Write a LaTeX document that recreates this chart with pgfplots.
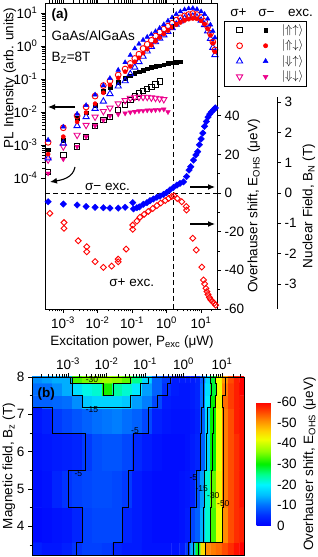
\documentclass[border=0pt]{standalone}
\usepackage{fontspec}
\setmainfont{Liberation Sans}
\usepackage{pgfplots}
\pgfplotsset{compat=1.18}
\usetikzlibrary{arrows.meta}
\pgfplotsset{
 every axis/.append style={scale only axis, tick align=outside, major tick length=4pt, minor tick length=2.5pt,
   tick style={black, line width=0.6pt}, axis line style={line width=0.7pt}, enlargelimits=false,
   font=\fontsize{13.5}{16}\selectfont},
 topminorx/.style={minor xtick={-3.398,-3.301,-3.222,-3.155,-3.097,-3.046,-2.699,-2.523,-2.398,-2.301,-2.222,-2.155,-2.097,-2.046,-1.699,-1.523,-1.398,-1.301,-1.222,-1.155,-1.097,-1.046,-0.699,-0.523,-0.398,-0.301,-0.222,-0.155,-0.097,-0.046,0.301,0.477,0.602,0.699,0.778,0.845,0.903,0.954,1.301}},
 botminorx/.style={minor xtick={-3.699,-3.523,-3.398,-3.301,-3.222,-3.155,-3.097,-3.046,-2.699,-2.523,-2.398,-2.301,-2.222,-2.155,-2.097,-2.046,-1.699,-1.523,-1.398,-1.301,-1.222,-1.155,-1.097,-1.046,-0.699,-0.523,-0.398,-0.301,-0.222,-0.155,-0.097,-0.046,0.301,0.477,0.602,0.699,0.778,0.845,0.903,0.954,1.301,1.477}},
 logxlabels/.style={xtick={-3,-2,-1,0,1}, xticklabels={10\textsuperscript{-3},10\textsuperscript{-2},10\textsuperscript{-1},10\textsuperscript{0},10\textsuperscript{1}}},
}
\begin{document}
\begin{tikzpicture}[font=\fontsize{13.5}{16}\selectfont]
\useasboundingbox (0pt,0pt) rectangle (317pt,557pt);

% ---------------- panel (a): PL intensity (log10 values) ----------------
\begin{axis}[at={(45pt,248pt)}, anchor=south west, width=172pt, height=306pt,
  xmin=-3.52, xmax=1.46, ymin=-7.97, ymax=1.30,
  logxlabels, topminorx, xtick pos=both, xticklabel pos=left,
  ytick={-4,-3,-2,-1,0,1},
  yticklabels={10\textsuperscript{-4},10\textsuperscript{-3},10\textsuperscript{-2},10\textsuperscript{-1},10\textsuperscript{0},10\textsuperscript{1}},
  minor ytick={-3.699,-3.523,-3.398,-3.301,-3.222,-3.155,-3.097,-3.046,-2.699,-2.523,-2.398,-2.301,-2.222,-2.155,-2.097,-2.046,-1.699,-1.523,-1.398,-1.301,-1.222,-1.155,-1.097,-1.046,-0.699,-0.523,-0.398,-0.301,-0.222,-0.155,-0.097,-0.046,0.301,0.477,0.602,0.699,0.778,0.845,0.903,0.954},
  ytick pos=left,
  legend style={at={(1.0407,0.9422)}, anchor=north west, draw=black, line width=0.6pt,
     inner xsep=1pt, inner ysep=1.5pt, row sep=0pt, font=\fontsize{12}{14}\selectfont,
     nodes={inner ysep=1.75pt, inner xsep=2pt, text height=9pt, text depth=3pt}},
  legend cell align=left]
\addplot[forget plot, only marks, mark=square, mark size=2.7pt, black, line width=0.9pt] coordinates {
(-3.43,-3.81)(-2.99,-3.30)(-2.59,-3.05)(-2.33,-2.75)(-2.07,-2.42)(-1.83,-2.25)(-1.64,-2.15)(-1.40,-1.94)(-1.20,-1.78)(-1.05,-1.64)(-0.92,-1.53)(-0.80,-1.44)(-0.68,-1.37)(-0.56,-1.30)(-0.44,-1.24)(-0.32,-1.17)(-0.20,-1.08)};
\addplot[forget plot, only marks, mark=square*, mark size=1.8pt, black] coordinates {
(-3.43,-3.15)(-2.99,-2.85)(-2.59,-2.19)(-2.33,-2.02)(-2.07,-1.80)(-1.83,-1.38)(-1.64,-1.25)(-1.40,-1.10)(-1.20,-0.98)(-1.05,-0.90)(-0.92,-0.83)(-0.80,-0.78)(-0.68,-0.73)(-0.56,-0.69)(-0.44,-0.65)(-0.32,-0.62)(-0.20,-0.60)(-0.08,-0.57)(0.04,-0.53)(0.16,-0.51)(0.28,-0.50)(0.40,-0.48)};
\addplot[forget plot, only marks, mark=triangle, mark size=3.6pt, mark options={rotate=180}, magenta, line width=0.9pt] coordinates {
(-3.43,-3.45)(-2.99,-3.05)(-2.59,-2.70)(-2.33,-2.40)(-2.07,-2.15)(-1.83,-1.98)(-1.64,-1.88)(-1.40,-1.75)(-1.20,-1.65)(-1.05,-1.58)(-0.92,-1.55)(-0.80,-1.55)(-0.68,-1.55)(-0.56,-1.55)(-0.44,-1.57)(-0.32,-1.58)(-0.20,-1.60)(-0.08,-1.62)};
\addplot[forget plot, only marks, mark=triangle*, mark size=2.7pt, mark options={rotate=180}, magenta] coordinates {
(-3.43,-3.86)(-2.99,-3.43)(-2.59,-3.05)(-2.33,-2.75)(-2.07,-2.42)(-1.83,-2.25)(-1.64,-2.12)(-1.40,-2.07)(-1.20,-2.04)(-1.05,-2.01)(-0.92,-1.99)(-0.80,-1.97)(-0.68,-1.96)(-0.56,-1.95)(-0.44,-1.95)(-0.32,-1.94)(-0.20,-1.93)(-0.08,-1.92)(0.04,-2.00)};
\addplot[forget plot, only marks, mark=triangle, mark size=3.6pt, blue, line width=0.9pt] coordinates {
(-3.43,-3.40)(-2.99,-2.95)(-2.59,-2.42)(-2.33,-2.15)(-2.07,-1.90)(-1.83,-1.68)(-1.64,-1.45)(-1.40,-1.22)(-1.20,-1.06)(-1.05,-0.85)(-0.92,-0.65)(-0.80,-0.48)(-0.68,-0.32)(-0.56,-0.16)(-0.44,-0.02)(-0.32,0.12)(-0.20,0.23)(-0.08,0.33)(0.04,0.43)(0.16,0.55)(0.28,0.65)(0.40,0.75)(0.52,0.83)(0.64,0.87)(0.76,0.89)(0.88,0.86)(1.00,0.77)(1.10,0.64)(1.19,0.45)(1.27,0.22)(1.34,-0.05)(1.40,-0.27)};
\addplot[forget plot, only marks, mark=o, mark size=2.9pt, red, line width=0.9pt] coordinates {
(-3.43,-2.92)(-2.99,-2.48)(-2.59,-2.12)(-2.33,-1.85)(-2.07,-1.52)(-1.83,-1.20)(-1.64,-1.06)(-1.40,-0.88)(-1.20,-0.70)(-1.05,-0.53)(-0.92,-0.38)(-0.80,-0.25)(-0.68,-0.08)(-0.56,0.05)(-0.44,0.17)(-0.32,0.30)(-0.20,0.42)(-0.08,0.51)(0.04,0.60)(0.16,0.69)(0.28,0.78)(0.40,0.85)(0.52,0.91)(0.64,0.95)(0.76,0.98)(0.88,0.95)(1.00,0.86)(1.10,0.74)(1.19,0.58)(1.27,0.38)(1.34,0.12)(1.40,-0.12)};
\addplot[forget plot, only marks, mark=*, mark size=2.1pt, red] coordinates {
(-3.43,-3.28)(-2.99,-2.75)(-2.59,-2.30)(-2.33,-2.02)(-2.07,-1.75)(-1.83,-1.42)(-1.64,-1.18)(-1.40,-0.97)(-1.20,-0.78)(-1.05,-0.62)(-0.92,-0.48)(-0.80,-0.36)(-0.68,-0.22)(-0.56,-0.10)(-0.44,0.02)(-0.32,0.14)(-0.20,0.25)(-0.08,0.36)(0.04,0.46)(0.16,0.56)(0.28,0.64)(0.40,0.71)(0.52,0.77)(0.64,0.81)(0.76,0.83)(0.88,0.82)(1.00,0.76)(1.10,0.66)(1.19,0.52)(1.27,0.32)(1.34,0.08)(1.40,-0.18)};
\addplot[forget plot, only marks, mark=triangle*, mark size=2.7pt, blue] coordinates {
(-3.43,-2.85)(-2.99,-2.45)(-2.59,-2.06)(-2.33,-1.80)(-2.07,-1.48)(-1.83,-1.20)(-1.64,-0.98)(-1.40,-0.73)(-1.20,-0.50)(-1.05,-0.28)(-0.92,-0.08)(-0.80,0.06)(-0.68,0.18)(-0.56,0.27)(-0.44,0.35)(-0.32,0.44)(-0.20,0.54)(-0.08,0.65)(0.04,0.76)(0.16,0.86)(0.28,0.96)(0.40,1.04)(0.52,1.10)(0.64,1.13)(0.76,1.14)(0.88,1.11)(1.00,1.04)(1.10,0.96)(1.19,0.82)(1.27,0.64)(1.34,0.45)(1.40,0.25)};
\addlegendimage{legend image code/.code={\path (0pt,-4pt) (54pt,4pt);
  \draw[black,line width=0.9pt] plot[only marks,mark=square,mark size=2.7pt] coordinates {(14pt,0pt)};
  \draw[black,fill=black] plot[only marks,mark=square*,mark size=1.8pt] coordinates {(40pt,0pt)};}}
\addlegendentry{$|{\Uparrow}{\uparrow}\rangle$}
\addlegendimage{legend image code/.code={\path (0pt,-4pt) (54pt,4pt);
  \draw[red,line width=0.9pt] plot[only marks,mark=o,mark size=2.9pt] coordinates {(14pt,0pt)};
  \draw[red,fill=red] plot[only marks,mark=*,mark size=2.1pt] coordinates {(40pt,0pt)};}}
\addlegendentry{$|{\Uparrow}{\downarrow}\rangle$}
\addlegendimage{legend image code/.code={\path (0pt,-4pt) (54pt,4pt);
  \draw[blue,line width=0.9pt] plot[only marks,mark=triangle,mark size=3.6pt] coordinates {(14pt,0pt)};
  \draw[blue,fill=blue] plot[only marks,mark=triangle*,mark size=2.7pt] coordinates {(40pt,0pt)};}}
\addlegendentry{$|{\Downarrow}{\uparrow}\rangle$}
\addlegendimage{legend image code/.code={\path (0pt,-4pt) (54pt,4pt);
  \draw[magenta,line width=0.9pt] plot[only marks,mark=triangle,mark size=3.6pt,mark options={rotate=180}] coordinates {(14pt,0pt)};
  \draw[magenta,fill=magenta] plot[only marks,mark=triangle*,mark size=2.7pt,mark options={rotate=180}] coordinates {(40pt,0pt)};}}
\addlegendentry{$|{\Downarrow}{\downarrow}\rangle$}
\end{axis}

% ---------------- panel (a): Overhauser shift ----------------
\begin{axis}[at={(45pt,248pt)}, anchor=south west, width=172pt, height=306pt,
  xmin=-3.52, xmax=1.46, ymin=-60, ymax=98.3,
  axis x line=none, axis y line*=right,
  ytick={-60,-40,-20,0,20,40}, yticklabels={-60,-40,-20,0,20,40},
  minor ytick={-50,-30,-10,10,30,50}]
\addplot[black, line width=0.8pt, dash pattern=on 5pt off 3pt] coordinates {(-3.52,0)(1.46,0)};
\addplot[black, line width=0.8pt, dash pattern=on 5pt off 3pt] coordinates {(0.19,-60)(0.19,98.3)};
\addplot[only marks, mark=square, mark size=2.1pt, mark options={rotate=45}, red, line width=0.9pt] coordinates {
(-3.38,-10.5)(-2.97,-15.3)(-2.97,-18.3)(-2.56,-24.7)(-2.31,-27.8)(-2.31,-30.4)(-2.07,-35.5)(-1.83,-38.5)(-1.59,-37.8)(-1.40,-34.2)(-1.40,-35.6)(-1.17,-29)(-0.98,-16.6)(-0.98,-18.8)(-0.86,-14.5)(-0.77,-12.5)(-0.65,-11)(-0.53,-9.5)(-0.40,-8)(-0.28,-6.5)(-0.17,-5.2)(-0.04,-3.9)(0.06,-2.8)(0.15,-1.8)(0.22,-1.5)(0.31,-2.8)(0.44,-4.5)(0.57,-7.0)(0.58,-8.8)(0.76,-23.4)(0.86,-29.5)(1.02,-38.3)(1.07,-45)(1.10,-47)(1.14,-49.3)(1.17,-51)(1.20,-52.5)(1.24,-54)(1.28,-55.2)(1.33,-56.2)(1.38,-57)(1.42,-58)};
\addplot[only marks, mark=square*, mark size=2.3pt, mark options={rotate=45}, blue] coordinates {
(-3.43,-4.5)(-2.99,-5.7)(-2.59,-6.2)(-2.33,-7.0)(-2.07,-7.4)(-1.83,-7.6)(-1.64,-7.8)(-1.40,-7.8)(-1.20,-7.4)(-0.98,-5.0)(-0.96,-8.2)(-0.86,-7.6)(-0.79,-7.2)(-0.67,-5.8)(-0.57,-5.0)(-0.48,-4.0)(-0.38,-3.1)(-0.28,-2.2)(-0.19,-1.6)(-0.09,-0.7)(0.0,0.2)(0.10,1.6)(0.20,2.9)(0.30,4.1)(0.39,5.0)(0.49,5.8)(0.58,8.5)(0.65,11.9)(0.70,13.6)(0.78,17.0)(0.85,19.7)(0.90,21.4)(0.95,25.0)(1.00,28.0)(1.05,31.0)(1.10,34.5)(1.15,37.0)(1.20,39.3)(1.25,40.8)(1.30,42.0)(1.36,43.0)(1.41,44.0)};
\end{axis}

% ---------------- panel (a): nuclear field axis ----------------
\begin{axis}[at={(277pt,248pt)}, anchor=south east, width=8pt, height=212pt,
  xmin=0, xmax=1, ymin=-3.83, ymax=3.17,
  axis x line=none, axis y line*=right,
  ytick={-3,-2,-1,0,1,2,3}, yticklabels={-3,-2,-1,0,1,2,3}]
\addplot[draw=none] coordinates {(0,0)};
\end{axis}

% ---------------- panel (b): meta = magnitude of the Overhauser shift ----------------
\begin{axis}[at={(32pt,2pt)}, anchor=south west, width=212pt, height=178pt,
  xmin=-3.935, xmax=1.571, ymin=3.228, ymax=8,
  logxlabels, botminorx, xtick pos=right, xticklabel pos=right,
  ytick={4,5,6,7,8}, yticklabels={4,5,6,7,8}, minor ytick={3.5,4.5,5.5,6.5,7.5}, ytick pos=left,
  axis on top,
  colormap={ohs}{rgb255(0cm)=(0,0,255) rgb255(5cm)=(0,45,255) rgb255(10cm)=(0,110,255) rgb255(15cm)=(0,190,255) rgb255(20cm)=(0,245,255) rgb255(25cm)=(0,255,140) rgb255(30cm)=(0,240,0) rgb255(36cm)=(140,255,0) rgb255(42cm)=(240,255,0) rgb255(46cm)=(255,210,0) rgb255(51cm)=(255,140,0) rgb255(56cm)=(255,60,0) rgb255(60cm)=(255,0,0)},
  point meta min=0, point meta max=60,
  colorbar,
  colorbar style={at={(parent axis.south east)}, anchor=south west, xshift=4pt, yshift=29pt,
     scale only axis, width=17pt, height=124pt,
     ytick={0,10,20,30,40,50,60}, yticklabels={0,-10,-20,-30,-40,-50,-60},
     major tick length=0pt, axis line style={draw=none},
     ylabel={Overhauser shift, E\textsubscript{OHS} (μeV)}}]
\addplot[matrix plot*, mesh/cols=27, point meta=explicit] coordinates {
(-3.805,3.15)[3.5] (-3.545,3.15)[2.5] (-3.286,3.15)[2.5] (-3.026,3.15)[3.5] (-2.766,3.15)[5.5] (-2.506,3.15)[6.5] (-2.247,3.15)[6.5] (-1.987,3.15)[6] (-1.727,3.15)[4] (-1.468,3.15)[3] (-1.208,3.15)[3] (-0.948,3.15)[2] (-0.688,3.15)[2] (-0.429,3.15)[2] (-0.195,3.15)[2] (-0.013,3.15)[3] (0.117,3.15)[6] (0.247,3.15)[14] (0.377,3.15)[28] (0.506,3.15)[45] (0.636,3.15)[51] (0.766,3.15)[52] (0.922,3.15)[53] (1.078,3.15)[55] (1.234,3.15)[57] (1.390,3.15)[59] (1.519,3.15)[60]
(-3.805,4)[1] (-3.545,4)[1.5] (-3.286,4)[2] (-3.026,4)[2.5] (-2.766,4)[4] (-2.506,4)[6.5] (-2.247,4)[7] (-1.987,4)[7] (-1.727,4)[7] (-1.468,4)[4] (-1.208,4)[3] (-0.948,4)[2] (-0.688,4)[1.5] (-0.429,4)[1.5] (-0.195,4)[1.5] (-0.013,4)[2] (0.117,4)[3] (0.247,4)[7] (0.377,4)[9] (0.506,4)[14] (0.636,4)[22] (0.766,4)[33] (0.922,4)[42] (1.078,4)[51] (1.234,4)[55] (1.390,4)[57] (1.519,4)[58]
(-3.805,5)[1.5] (-3.545,5)[2] (-3.286,5)[4] (-3.026,5)[5.5] (-2.766,5)[6.5] (-2.506,5)[7] (-2.247,5)[7.5] (-1.987,5)[7.5] (-1.727,5)[7] (-1.468,5)[6] (-1.208,5)[3] (-0.948,5)[2] (-0.688,5)[1.5] (-0.429,5)[1.5] (-0.195,5)[1.5] (-0.013,5)[2] (0.117,5)[2.5] (0.247,5)[3.5] (0.377,5)[8] (0.506,5)[13] (0.636,5)[22] (0.766,5)[34] (0.922,5)[43] (1.078,5)[52] (1.234,5)[55] (1.390,5)[57] (1.519,5)[59]
(-3.805,6)[2] (-3.545,6)[2.5] (-3.286,6)[3] (-3.026,6)[3.5] (-2.766,6)[4] (-2.506,6)[6] (-2.247,6)[7.5] (-1.987,6)[8] (-1.727,6)[8] (-1.468,6)[7] (-1.208,6)[4.5] (-0.948,6)[3] (-0.688,6)[2] (-0.429,6)[1.5] (-0.195,6)[1.5] (-0.013,6)[1.5] (0.117,6)[2] (0.247,6)[3] (0.377,6)[4] (0.506,6)[9] (0.636,6)[17] (0.766,6)[30] (0.922,6)[42] (1.078,6)[52] (1.234,6)[55] (1.390,6)[57] (1.519,6)[59]
(-3.805,7)[2.5] (-3.545,7)[3.5] (-3.286,7)[6] (-3.026,7)[7] (-2.766,7)[8] (-2.506,7)[9] (-2.247,7)[10] (-1.987,7)[10.5] (-1.727,7)[11] (-1.468,7)[10] (-1.208,7)[9] (-0.948,7)[7] (-0.688,7)[3.5] (-0.429,7)[2.5] (-0.195,7)[2] (-0.013,7)[2] (0.117,7)[2] (0.247,7)[2.5] (0.377,7)[3.5] (0.506,7)[9] (0.636,7)[17] (0.766,7)[30] (0.922,7)[42] (1.078,7)[52] (1.234,7)[55] (1.390,7)[58] (1.519,7)[59]
(-3.805,7.35)[9] (-3.545,7.35)[9] (-3.286,7.35)[9.5] (-3.026,7.35)[10] (-2.766,7.35)[12] (-2.506,7.35)[16] (-2.247,7.35)[17] (-1.987,7.35)[17] (-1.727,7.35)[17] (-1.468,7.35)[16] (-1.208,7.35)[13] (-0.948,7.35)[11] (-0.688,7.35)[7] (-0.429,7.35)[3] (-0.195,7.35)[2.5] (-0.013,7.35)[2.5] (0.117,7.35)[2.5] (0.247,7.35)[3] (0.377,7.35)[4] (0.506,7.35)[10] (0.636,7.35)[19] (0.766,7.35)[30] (0.922,7.35)[43] (1.078,7.35)[53] (1.234,7.35)[56] (1.390,7.35)[58] (1.519,7.35)[59]
(-3.805,7.67)[10] (-3.545,7.67)[10] (-3.286,7.67)[12] (-3.026,7.67)[14] (-2.766,7.67)[18] (-2.506,7.67)[21] (-2.247,7.67)[22] (-1.987,7.67)[31] (-1.727,7.67)[24] (-1.468,7.67)[22] (-1.208,7.67)[19] (-0.948,7.67)[13] (-0.688,7.67)[9] (-0.429,7.67)[5] (-0.195,7.67)[3] (-0.013,7.67)[2.5] (0.117,7.67)[2.5] (0.247,7.67)[3] (0.377,7.67)[4] (0.506,7.67)[10] (0.636,7.67)[18] (0.766,7.67)[28] (0.922,7.67)[42] (1.078,7.67)[52] (1.234,7.67)[56] (1.390,7.67)[58] (1.519,7.67)[60]
(-3.805,8)[12] (-3.545,8)[13] (-3.286,8)[14] (-3.026,8)[14] (-2.766,8)[33] (-2.506,8)[35] (-2.247,8)[36] (-1.987,8)[37] (-1.727,8)[36] (-1.468,8)[34] (-1.208,8)[25] (-0.948,8)[17] (-0.688,8)[9] (-0.429,8)[6] (-0.195,8)[3] (-0.013,8)[3] (0.117,8)[3] (0.247,8)[3] (0.377,8)[4] (0.506,8)[9] (0.636,8)[17] (0.766,8)[28] (0.922,8)[42] (1.078,8)[50] (1.234,8)[55] (1.390,8)[58] (1.519,8)[60]
};
% contour lines
\addplot[black, line width=0.7pt] coordinates {(-3.935,7.175)(-3.416,7.175)(-3.416,6.5)(-2.558,6.5)(-2.558,5.5)(-3.0,5.5)(-3.0,4.5)(-2.636,4.5)(-2.636,3.575)(-2.792,3.575)(-2.792,3.228)};
\addplot[black, line width=0.7pt] coordinates {(-1.831,3.228)(-1.831,3.575)(-1.597,3.575)(-1.597,4.5)(-1.442,4.5)(-1.442,5.5)(-1.312,5.5)(-1.312,6.5)(-0.922,6.5)(-0.922,7.175)(-0.688,7.175)(-0.688,7.51)(-0.429,7.51)(-0.429,7.835)(-0.351,7.835)(-0.351,8)};
\addplot[black, line width=0.7pt] coordinates {(-2.896,8)(-2.896,7.51)(-2.636,7.51)(-2.636,7.175)(-1.390,7.175)(-1.390,7.51)(-1.130,7.51)(-1.130,7.835)(-0.922,7.835)(-0.922,8)};
\addplot[black, line width=0.7pt] coordinates {(-2.948,8)(-2.948,7.835)(-2.091,7.835)(-2.091,7.51)(-1.831,7.51)(-1.831,7.835)(-1.390,7.835)(-1.390,8)};
\addplot[black, line width=0.7pt] coordinates {(0.117,3.228)(0.117,3.575)(0.169,3.575)(0.169,4.5)(0.325,4.5)(0.325,5.5)(0.429,5.5)(0.429,6.5)(0.455,6.5)(0.455,7.175)(0.506,7.175)(0.506,8)};
\addplot[black, line width=0.7pt] coordinates {(0.247,3.228)(0.247,3.575)(0.506,3.575)(0.506,4.5)(0.532,4.5)(0.532,5.5)(0.584,5.5)(0.584,6.5)(0.610,6.5)(0.610,7.175)(0.688,7.175)(0.688,7.51)(0.714,7.51)(0.714,7.835)(0.688,7.835)(0.688,8)};
\addplot[black, line width=0.7pt] coordinates {(0.377,3.228)(0.377,3.575)(0.688,3.575)(0.688,4.5)(0.714,4.5)(0.714,5.5)(0.740,5.5)(0.740,6.5)(0.766,6.5)(0.766,7.175)(0.818,7.175)(0.818,7.51)(0.844,7.51)(0.844,7.835)(0.818,7.835)(0.818,8)};
\addplot[black, line width=0.7pt] coordinates {(0.558,3.228)(0.558,3.575)(1.0,3.575)(1.0,4.5)(1.026,4.5)(1.026,5.5)(1.026,6.5)(1.026,7.175)(1.0,7.175)(1.0,7.51)(1.078,7.51)(1.078,8)};
\node[font=\fontsize{8.5}{9}\selectfont] at (axis cs:-1.26,6.55) {-5};
\node[font=\fontsize{8.5}{9}\selectfont] at (axis cs:-2.73,5.41) {-5};
\node[font=\fontsize{8.5}{9}\selectfont] at (axis cs:-2.377,7.12) {-15};
\node[font=\fontsize{8.5}{9}\selectfont] at (axis cs:-2.377,7.93) {-30};
\node[font=\fontsize{8.5}{9}\selectfont] at (axis cs:0.255,5.29) {-5};
\node[font=\fontsize{8.5}{9}\selectfont] at (axis cs:0.473,5.02) {-15};
\node[font=\fontsize{8.5}{9}\selectfont] at (axis cs:0.774,4.83) {-30};
\node[font=\fontsize{8.5}{9}\selectfont] at (axis cs:1.034,4.6) {-50};
\end{axis}

% ---------------- text and arrows ----------------
\node[rotate=90] at (10pt,479pt) {PL Intensity (arb. units)};
\node[rotate=90] at (254pt,351pt) {Overhauser shift, E\textsubscript{OHS} (μeV)};
\node[rotate=90] at (309pt,351pt) {Nuclear Field, B\textsubscript{N} (T)};
\node at (132pt,215pt) {Excitation power, P\textsubscript{exc} (μW)};
\node[rotate=90] at (9pt,91pt) {Magnetic field, B\textsubscript{z} (T)};
\node[anchor=west, font=\fontsize{13.5}{16}\selectfont\bfseries] at (48pt,542pt) {(a)};
\node[anchor=west] at (48pt,521pt) {GaAs/AlGaAs};
\node[anchor=west] at (48pt,499pt) {B\textsubscript{Z}=8T};
\node at (107.5pt,370pt) {σ− exc.};
\node at (131.7pt,274pt) {σ+ exc.};
\node at (238.5pt,544pt) {σ+};
\node at (266.5pt,544pt) {σ−};
\node at (300.5pt,544pt) {exc.};
\node[anchor=west, font=\fontsize{13.5}{16}\selectfont\bfseries] at (34pt,163pt) {(b)};
\draw[line width=1.1pt, -{Latex[length=7pt,width=6pt]}] (75pt,450pt) -- (48pt,450pt);
\draw[line width=1.1pt, -{Latex[length=7pt,width=6pt]}] (75pt,390pt) to[out=-100,in=10] (50pt,375pt);
\draw[line width=1.1pt, -{Latex[length=7pt,width=6pt]}] (190pt,370pt) -- (215pt,370pt);
\draw[line width=1.1pt, -{Latex[length=7pt,width=6pt]}] (190pt,333pt) -- (215pt,333pt);
\end{tikzpicture}
\end{document}
